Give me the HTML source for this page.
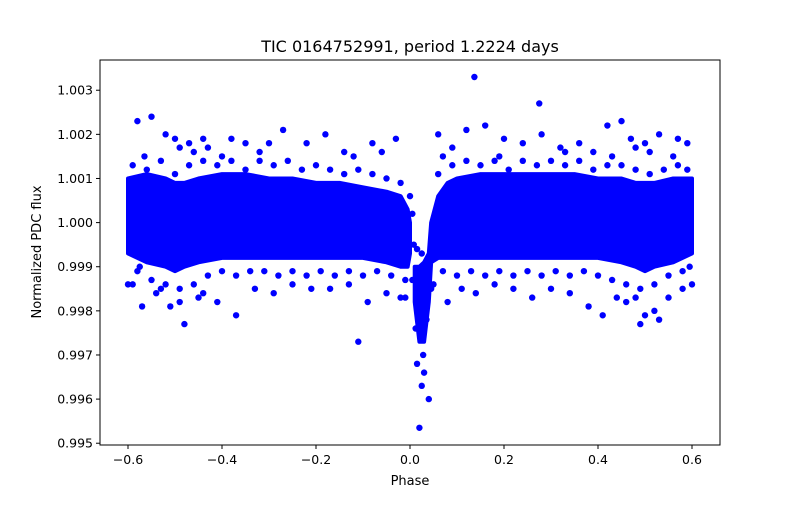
<!DOCTYPE html>
<html><head><meta charset="utf-8"><style>
body{margin:0;background:#fff}
svg text{font-family:"DejaVu Sans","Liberation Sans",sans-serif;fill:#000}
</style></head><body>
<svg id="chart" width="800" height="500" xmlns="http://www.w3.org/2000/svg">
<rect width="800" height="500" fill="#fff"/>
<text x="410" y="52" text-anchor="middle" font-size="16">TIC 0164752991, period 1.2224 days</text>
<g id="marks"></g>
<rect x="100" y="60" width="620" height="385" fill="none" stroke="#000" stroke-width="1"/>
<g id="xt"></g>
<g id="yt"></g>
<text x="410" y="485" text-anchor="middle" font-size="13">Phase</text>
<text x="0" y="0" transform="translate(41,252) rotate(-90)" text-anchor="middle" font-size="13">Normalized PDC flux</text>
</svg>
<script>
const xTicks=[-0.6,-0.4,-0.2,0.0,0.2,0.4,0.6];
const xTickLabels=["−0.6","−0.4","−0.2","0.0","0.2","0.4","0.6"];
const yTicks=[0.995,0.996,0.997,0.998,0.999,1.000,1.001,1.002,1.003];
const yTickLabels=["0.995","0.996","0.997","0.998","0.999","1.000","1.001","1.002","1.003"];
// core envelope of dense point cloud
const bandPhase=[-0.6,-0.56,-0.52,-0.5,-0.48,-0.45,-0.4,-0.35,-0.3,-0.25,-0.2,-0.15,-0.1,-0.05,-0.02,-0.005,0.0];
const bandUpper=[1.0010,1.0011,1.0010,1.0009,1.0009,1.0010,1.0011,1.0011,1.0010,1.0010,1.0009,1.0009,1.0008,1.0007,1.0006,1.0003,1.0000];
const bandLower=[0.9993,0.9991,0.9990,0.9989,0.9990,0.9991,0.9992,0.9992,0.9992,0.9992,0.9992,0.9992,0.9992,0.9991,0.9990,0.9990,0.9993];
const band2Phase=[0.01,0.02,0.03,0.04,0.045,0.06,0.08,0.1,0.15,0.2,0.25,0.3,0.35,0.4,0.45,0.48,0.5,0.52,0.56,0.6];
const band2Upper=[0.9990,0.9990,0.9991,0.9993,1.0000,1.0006,1.0009,1.0010,1.0011,1.0011,1.0011,1.0011,1.0011,1.0010,1.0010,1.0009,1.0009,1.0009,1.0010,1.0010];
const band2Lower=[0.9982,0.9973,0.9973,0.9982,0.9991,0.9992,0.9992,0.9992,0.9992,0.9992,0.9992,0.9992,0.9992,0.9992,0.9991,0.9990,0.9989,0.9990,0.9991,0.9993];
// individual scattered points
const ptPhase=[0.137,0.275,0.02,-0.11,0.04,0.025,0.015,0.03,0.022,0.035,0.012,0.028,-0.01,0.005,-0.58,-0.55,-0.5,-0.49,-0.47,-0.46,-0.52,-0.44,-0.43,-0.38,-0.35,-0.3,-0.27,-0.22,-0.18,-0.14,-0.08,-0.06,-0.03,0.06,0.09,0.12,0.16,0.2,0.24,0.28,0.32,0.36,0.39,0.42,0.45,0.47,0.48,0.5,0.51,0.53,0.57,0.59,-0.59,-0.57,-0.54,-0.51,-0.48,-0.45,-0.41,-0.37,-0.33,-0.29,-0.25,-0.21,-0.17,-0.13,-0.09,-0.05,-0.02,0.02,0.05,0.08,0.11,0.14,0.18,0.22,0.26,0.3,0.34,0.38,0.41,0.44,0.46,0.49,0.52,0.55,0.58,-0.565,-0.4,-0.32,-0.12,0.07,0.19,0.33,0.43,0.56,-0.53,-0.49,-0.44,0.48,0.5,0.53,-0.6,0.6,-0.575,0.595,
-0.59,-0.56,-0.53,-0.5,-0.47,-0.44,-0.41,-0.38,-0.35,-0.32,-0.29,-0.26,-0.23,-0.2,-0.17,-0.14,-0.11,-0.08,-0.05,-0.02,0.06,0.09,0.12,0.15,0.18,0.21,0.24,0.27,0.3,0.33,0.36,0.39,0.42,0.45,0.48,0.51,0.54,0.57,0.59,
-0.58,-0.55,-0.52,-0.49,-0.46,-0.43,-0.4,-0.37,-0.34,-0.31,-0.28,-0.25,-0.22,-0.19,-0.16,-0.13,-0.1,-0.07,-0.04,-0.01,0.07,0.1,0.13,0.16,0.19,0.22,0.25,0.28,0.31,0.34,0.37,0.4,0.43,0.46,0.49,0.52,0.55,0.58,
0.005,0.008,0.015,0.025,0.035,0.045,-0.015,0.0];
const ptFlux=[1.0033,1.0027,0.99535,0.9973,0.9960,0.9963,0.9968,0.9966,0.9975,0.9978,0.9976,0.9970,0.9983,0.9987,1.0023,1.0024,1.0019,1.0017,1.0018,1.0016,1.0020,1.0019,1.0017,1.0019,1.0018,1.0018,1.0021,1.0018,1.0020,1.0016,1.0018,1.0016,1.0019,1.0020,1.0017,1.0021,1.0022,1.0019,1.0018,1.0020,1.0017,1.0018,1.0016,1.0022,1.0023,1.0019,1.0017,1.0018,1.0016,1.0020,1.0019,1.0018,0.9986,0.9981,0.9984,0.9981,0.9977,0.9983,0.9982,0.9979,0.9985,0.9984,0.9986,0.9985,0.9985,0.9986,0.9982,0.9984,0.9983,0.9988,0.9986,0.9982,0.9985,0.9984,0.9986,0.9985,0.9983,0.9985,0.9984,0.9981,0.9979,0.9983,0.9982,0.9977,0.9980,0.9983,0.9985,1.0015,1.0015,1.0016,1.0015,1.0015,1.0015,1.0016,1.0015,1.0015,0.9985,0.9982,0.9984,0.9983,0.9979,0.9978,0.9986,0.9986,0.9990,0.9990,
1.0013,1.0012,1.0014,1.0011,1.0013,1.0014,1.0013,1.0014,1.0012,1.0014,1.0013,1.0014,1.0012,1.0013,1.0012,1.0011,1.0012,1.0011,1.0010,1.0009,1.0011,1.0013,1.0014,1.0013,1.0014,1.0012,1.0014,1.0013,1.0014,1.0013,1.0014,1.0012,1.0013,1.0013,1.0012,1.0011,1.0012,1.0013,1.0012,
0.9989,0.9987,0.9986,0.9985,0.9986,0.9988,0.9989,0.9988,0.9989,0.9989,0.9988,0.9989,0.9988,0.9989,0.9988,0.9989,0.9988,0.9989,0.9988,0.9987,0.9989,0.9988,0.9989,0.9988,0.9989,0.9988,0.9989,0.9988,0.9989,0.9988,0.9989,0.9988,0.9987,0.9986,0.9985,0.9986,0.9988,0.9989,
1.0002,0.9995,0.9994,0.9993,0.9988,0.9985,1.0001,1.0006];
const X0=100,X1=720,Y0=60,Y1=445;
const xs=p=>410+p*470;
const ys=f=>222.6-(f-1)*44125;
const NS="http://www.w3.org/2000/svg";
const marks=document.getElementById('marks');
function drawBand(P,U,L,name){
 let d="M"+P.map((p,i)=>xs(p)+","+ys(U[i])).join(" L");
 for(let i=P.length-1;i>=0;i--) d+=" L"+xs(P[i])+","+ys(L[i]);
 d+=" Z";
 const band=document.createElementNS(NS,'path');
 band.setAttribute('d',d);band.setAttribute('fill','#0000ff');band.setAttribute('stroke','#0000ff');band.setAttribute('stroke-width','4');band.setAttribute('stroke-linejoin','round');
 
 
 marks.appendChild(band);
}
drawBand(bandPhase,bandUpper,bandLower,'dense-cloud-pre-transit');
drawBand(band2Phase,band2Upper,band2Lower,'dense-cloud-transit-and-after');
ptPhase.forEach((p,i)=>{
 const c=document.createElementNS(NS,'circle');
 c.setAttribute('cx',xs(p));c.setAttribute('cy',ys(ptFlux[i]));c.setAttribute('r','3.2');c.setAttribute('fill','#0000ff');
 
 
 marks.appendChild(c);
});
const xt=document.getElementById('xt');
xTicks.forEach((t,i)=>{
 const x=xs(t);
 const l=document.createElementNS(NS,'line');
 l.setAttribute('x1',x);l.setAttribute('x2',x);l.setAttribute('y1',Y1);l.setAttribute('y2',Y1+4);l.setAttribute('stroke','#000');
 
 
 xt.appendChild(l);
 const tx=document.createElementNS(NS,'text');
 tx.setAttribute('x',x);tx.setAttribute('y',Y1+19);tx.setAttribute('text-anchor','middle');tx.setAttribute('font-size','12.5');
 tx.textContent=xTickLabels[i];
 
 
 xt.appendChild(tx);
});
const yt=document.getElementById('yt');
yTicks.forEach((t,i)=>{
 const y=ys(t);
 const l=document.createElementNS(NS,'line');
 l.setAttribute('x1',X0-4);l.setAttribute('x2',X0);l.setAttribute('y1',y);l.setAttribute('y2',y);l.setAttribute('stroke','#000');
 
 
 yt.appendChild(l);
 const tx=document.createElementNS(NS,'text');
 tx.setAttribute('x',X0-7);tx.setAttribute('y',y+4.5);tx.setAttribute('text-anchor','end');tx.setAttribute('font-size','12.5');
 tx.textContent=yTickLabels[i];
 
 
 yt.appendChild(tx);
});
</script>
</body></html>
